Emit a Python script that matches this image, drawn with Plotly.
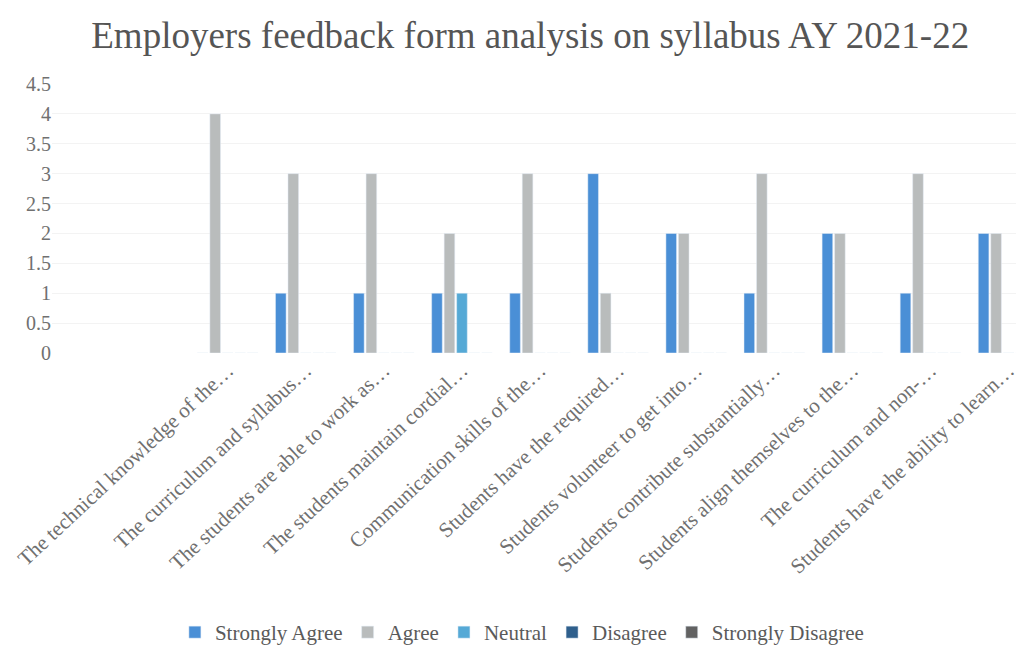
import plotly.graph_objects as go

questions = [
    "The technical knowledge of the…",
    "The curriculum and syllabus…",
    "The students are able to work as…",
    "The students maintain cordial…",
    "Communication skills of the…",
    "Students have the required…",
    "Students volunteer to get into…",
    "Students contribute substantially…",
    "Students align themselves to the…",
    "The curriculum and non-…",
    "Students have the ability to learn…",
]

strongly_agree = [0, 1, 1, 1, 1, 3, 2, 1, 2, 1, 2]
agree = [4, 3, 3, 2, 3, 1, 2, 3, 2, 3, 2]
neutral = [0, 0, 0, 1, 0, 0, 0, 0, 0, 0, 0]
disagree = [0, 0, 0, 0, 0, 0, 0, 0, 0, 0, 0]
strongly_disagree = [0, 0, 0, 0, 0, 0, 0, 0, 0, 0, 0]

series = [
    ("Strongly Agree", strongly_agree, "#4a8fd6"),
    ("Agree", agree, "#b9bcbc"),
    ("Neutral", neutral, "#55a9d6"),
    ("Disagree", disagree, "#2f5f8c"),
    ("Strongly Disagree", strongly_disagree, "#626262"),
]

serif = "Liberation Serif, Times New Roman, serif"

fig = go.Figure()
for name, vals, col in series:
    fig.add_trace(go.Bar(name=name, x=list(range(len(questions))), y=vals, marker_color=col))

fig.update_layout(
    width=1024, height=645,
    barmode="group", bargap=0.2, bargroupgap=0.15,
    paper_bgcolor="white", plot_bgcolor="white",
    margin=dict(l=44, r=0, t=76, b=298),
    title=dict(text="Employers feedback form analysis on syllabus AY 2021-22",
               x=0.51, xanchor="center", y=0.958, yanchor="middle",
               font=dict(family=serif, size=37, color="#555555")),
    font=dict(family=serif, color="#6a6a6a"),
    legend=dict(orientation="h", x=0.48, xanchor="center", y=-1.04, yanchor="middle",
                font=dict(family=serif, size=21, color="#5a5a5a"), itemwidth=30,
                traceorder="normal"),
)
fig.update_xaxes(
    tickmode="array", tickvals=list(range(len(questions))), ticktext=questions,
    range=[-2.25, 10.3], tickangle=-43, tickfont=dict(family=serif, size=21, color="#707070"),
    showgrid=False, zeroline=False, showline=False, ticks="",
)
fig.update_yaxes(
    range=[0, 4.5], dtick=0.5, tickfont=dict(family=serif, size=20, color="#707070"),
    showgrid=True, gridcolor="#f3f3f3", zeroline=False, showline=False, ticks="",
)

fig.write_html("out.html")
